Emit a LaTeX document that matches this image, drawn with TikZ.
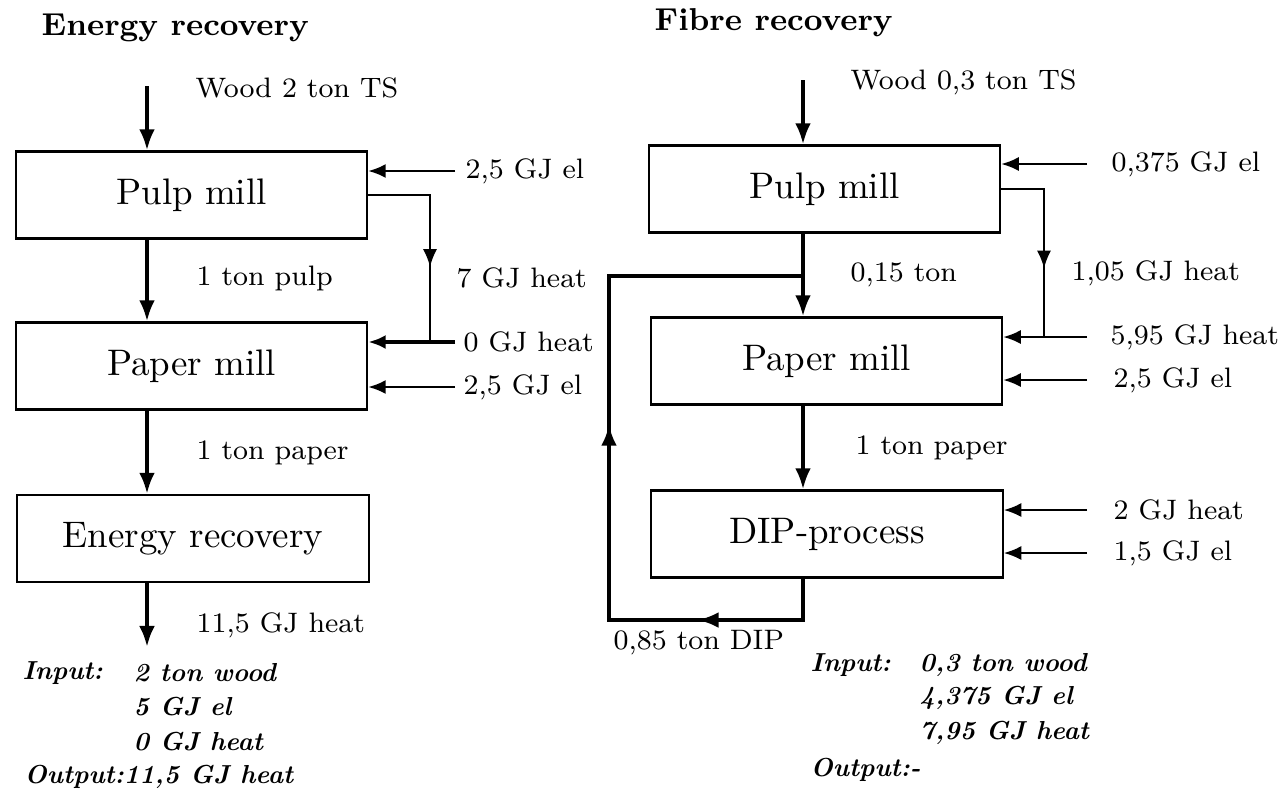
\documentclass[tikz,border=0pt]{standalone}
\usepackage{tikz}
\usetikzlibrary{arrows.meta,decorations.markings}
\tikzset{>={Latex[length=5pt,width=4pt]}}
\tikzset{midarrow/.style={postaction={decorate,decoration={markings,mark=at position #1 with {\arrow{>}}}}}}

\begin{document}
\begin{tikzpicture}[x=0.01cm,y=-0.01cm]
      \tikzstyle{procbox}=[draw,line width=0.6pt,minimum width=3.51cm,minimum height=0.87cm,inner sep=0pt,font=\fontsize{10.5}{12}\selectfont];
      \tikzstyle{lbl}=[anchor=west,inner sep=0pt,font=\fontsize{8}{10}\selectfont];
      \tikzstyle{ttl}=[anchor=west,inner sep=0pt,font=\fontsize{9}{11}\selectfont\bfseries];
      \tikzstyle{sumtxt}=[anchor=west,inner sep=0pt,font=\fontsize{7.4}{9}\selectfont\bfseries\itshape];
      \tikzstyle{flow}=[line width=1.1pt,-{Latex[length=6pt,width=4.5pt]}];
      \tikzstyle{feed}=[line width=0.7pt,->];
      \useasboundingbox (0,0) rectangle (1280,793);

      % energy recovery
      \node[ttl] (titleL) at (41,28) {Energy recovery};
      \coordinate (woodL) at (147,86);
      \node[lbl] (woodLtxt) at (195,88) {Wood 2 ton TS};
      \node[procbox] (pulpL) at (191.5,195) {Pulp mill};
      \node[procbox] (paperL) at (191.5,366) {Paper mill};
      \node[procbox] (energyL) at (193,538.5) {Energy recovery};
      \coordinate (outL) at (147,647);
      \coordinate (el1L) at (455,171);
      \coordinate (heat0L) at (455,342);
      \coordinate (jL) at (430,342);
      \coordinate (el2L) at (455,387);

      \draw[flow] (woodL) -- (woodL |- pulpL.north);
      \draw[flow] (pulpL.south -| woodL) -- (paperL.north -| woodL);
      \draw[flow] (paperL.south -| woodL) -- (energyL.north -| woodL);
      \draw[flow] (energyL.south -| woodL) -- (outL);
      \draw[feed] (el1L) -- (el1L -| pulpL.east);
      \draw[line width=0.6pt,midarrow=0.64] (pulpL.east) -| (jL);
      \draw[feed,line width=1pt] (heat0L) -- (heat0L -| paperL.east);
      \draw[feed] (el2L) -- (el2L -| paperL.east);

      \node[lbl] (el1Ltxt) at (465,171) {2,5 GJ el};
      \node[lbl] (heatLtxt) at (456,278) {7 GJ heat};
      \node[lbl] (pulpLtxt) at (196,278) {1 ton pulp};
      \node[lbl] (heat0Ltxt) at (463,342) {0 GJ heat};
      \node[lbl] (el2Ltxt) at (463,387) {2,5 GJ el};
      \node[lbl] (paperLtxt) at (196,453) {1 ton paper};
      \node[lbl] (outLtxt) at (196,625) {11,5 GJ heat};

      \node[sumtxt] (inL) at (22,673) {Input:};
      \node[sumtxt] (inL1) at (133,673) {2 ton wood};
      \node[sumtxt] (inL2) at (133,707) {5 GJ el};
      \node[sumtxt] (inL3) at (133,742) {0 GJ heat};
      \node[sumtxt] (outLsum) at (24,777) {Output:11,5 GJ heat};

      % fibre recovery
      \node[ttl] (titleR) at (654,23) {Fibre recovery};
      \coordinate (woodR) at (803,80);
      \node[lbl] (woodRtxt) at (850,82) {Wood 0,3 ton TS};
      \node[procbox] (pulpR) at (824.5,189) {Pulp mill};
      \node[procbox] (paperR) at (826.5,361) {Paper mill};
      \node[procbox] (dipR) at (827,534) {DIP-process};
      \coordinate (el1R) at (1087,164);
      \coordinate (jR) at (1044,337);
      \coordinate (heatR) at (1087,337);
      \coordinate (el2R) at (1087,380);
      \coordinate (heat2R) at (1087,510);
      \coordinate (el3R) at (1087,553);
      \coordinate (rc1) at (803,620);
      \coordinate (rc2) at (609,620);
      \coordinate (rc3) at (609,276);
      \coordinate (mergeR) at (803,276);

      \draw[flow] (woodR) -- (woodR |- pulpR.north);
      \draw[flow] (pulpR.south -| woodR) -- (paperR.north -| woodR);
      \draw[flow] (paperR.south -| woodR) -- (dipR.north -| woodR);
      \draw[line width=1.1pt,>={Latex[length=6pt,width=4.5pt]},midarrow=0.19,midarrow=0.557] (dipR.south -| woodR) -- (rc1) -- (rc2) -- (rc3) -- (mergeR);
      \draw[feed] (el1R) -- (el1R -| pulpR.east);
      \draw[line width=0.6pt,midarrow=0.64] (pulpR.east) -| (jR);
      \draw[feed] (heatR) -- (heatR -| paperR.east);
      \draw[feed] (el2R) -- (el2R -| paperR.east);
      \draw[feed] (heat2R) -- (heat2R -| dipR.east);
      \draw[feed] (el3R) -- (el3R -| dipR.east);

      \node[lbl] (el1Rtxt) at (1111,164) {0,375 GJ el};
      \node[lbl] (heat1Rtxt) at (1071,273) {1,05 GJ heat};
      \node[lbl] (pulpRtxt) at (850,275) {0,15 ton};
      \node[lbl] (heatRtxt) at (1110,337) {5,95 GJ heat};
      \node[lbl] (el2Rtxt) at (1113,380) {2,5 GJ el};
      \node[lbl] (paperRtxt) at (855,448) {1 ton paper};
      \node[lbl] (heat2Rtxt) at (1113,510) {2 GJ heat};
      \node[lbl] (el3Rtxt) at (1113,553) {1,5 GJ el};
      \node[lbl] (dipRtxt) at (613,643) {0,85 ton DIP};

      \node[sumtxt] (inR) at (810,665) {Input:};
      \node[sumtxt] (inR1) at (919,665) {0,3 ton wood};
      \node[sumtxt] (inR2) at (919,698) {4,375 GJ el};
      \node[sumtxt] (inR3) at (919,733) {7,95 GJ heat};
      \node[sumtxt] (outRsum) at (810,770) {Output:-};
    \end{tikzpicture}
\end{document}
